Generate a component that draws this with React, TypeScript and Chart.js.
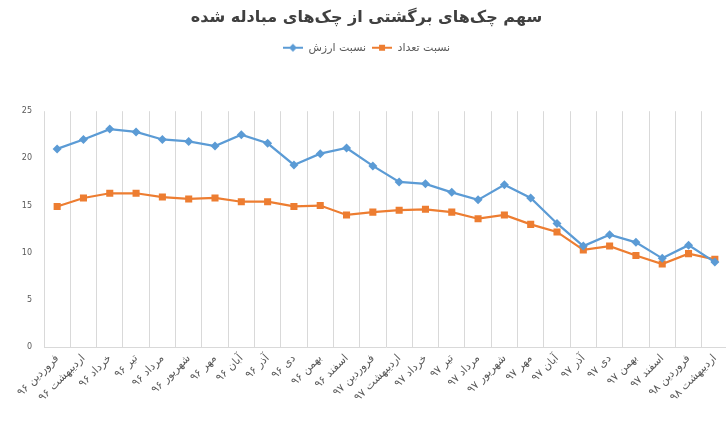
import React, { useEffect, useRef } from "react";
import { Chart, registerables } from "chart.js";

Chart.register(...registerables);

const TITLE = "سهم چک‌های برگشتی از چک‌های مبادله شده";
const CATEGORIES = [
  "فروردین ۹۶", "اردیبهشت ۹۶", "خرداد ۹۶", "تیر ۹۶", "مرداد ۹۶", "شهریور ۹۶",
  "مهر ۹۶", "آبان ۹۶", "آذر ۹۶", "دی ۹۶", "بهمن ۹۶", "اسفند ۹۶",
  "فروردین ۹۷", "اردیبهشت ۹۷", "خرداد ۹۷", "تیر ۹۷", "مرداد ۹۷", "شهریور ۹۷",
  "مهر ۹۷", "آبان ۹۷", "آذر ۹۷", "دی ۹۷", "بهمن ۹۷", "اسفند ۹۷",
  "فروردین ۹۸", "اردیبهشت ۹۸",
];
const VALUE_LABEL = "نسبت ارزش";
const COUNT_LABEL = "نسبت تعداد";
const VALUE_SHARE = [21.0, 22.0, 23.1, 22.8, 22.0, 21.8, 21.3, 22.5, 21.6, 19.3, 20.5, 21.1, 19.2, 17.5, 17.3, 16.4, 15.6, 17.2, 15.8, 13.1, 10.7, 11.9, 11.1, 9.4, 10.8, 9.0];
const COUNT_SHARE = [14.9, 15.8, 16.3, 16.3, 15.9, 15.7, 15.8, 15.4, 15.4, 14.9, 15.0, 14.0, 14.3, 14.5, 14.6, 14.3, 13.6, 14.0, 13.0, 12.2, 10.3, 10.7, 9.7, 8.8, 9.9, 9.3];
const Y_MIN = 0;
const Y_MAX = 25;
const Y_STEP = 5;

const BLUE = "#5b9bd5";
const ORANGE = "#ed7d31";
const FONT = "'DejaVu Sans', 'Noto Sans', sans-serif";

function legendIcon(color: string, shape: "diamond" | "square"): HTMLCanvasElement {
  const c = document.createElement("canvas");
  c.width = 20;
  c.height = 10;
  const ctx = c.getContext("2d")!;
  ctx.strokeStyle = color;
  ctx.lineWidth = 2;
  ctx.beginPath();
  ctx.moveTo(0, 5);
  ctx.lineTo(20, 5);
  ctx.stroke();
  ctx.fillStyle = color;
  ctx.beginPath();
  if (shape === "diamond") {
    ctx.moveTo(10, 1);
    ctx.lineTo(14, 5);
    ctx.lineTo(10, 9);
    ctx.lineTo(6, 5);
    ctx.closePath();
  } else {
    ctx.rect(7, 2, 6, 6);
  }
  ctx.fill();
  return c;
}

export default function App() {
  const ref = useRef<HTMLCanvasElement | null>(null);

  useEffect(() => {
    if (!ref.current) return;
    const icons = [legendIcon(BLUE, "diamond"), legendIcon(ORANGE, "square")];
    const legendSpacer = {
      id: "legendSpacer",
      beforeInit(chart: any) {
        const orig = chart.legend.fit;
        chart.legend.fit = function () {
          orig.bind(chart.legend)();
          this.height = 75;
        };
      },
    };
    const chart = new Chart(ref.current, {
      type: "line",
      data: {
        labels: CATEGORIES,
        datasets: [
          {
            label: VALUE_LABEL,
            data: VALUE_SHARE,
            borderColor: BLUE,
            backgroundColor: BLUE,
            borderWidth: 2.25,
            pointStyle: "rectRot",
            pointRadius: 4.5,
            pointBorderWidth: 0,
            tension: 0,
          },
          {
            label: COUNT_LABEL,
            data: COUNT_SHARE,
            borderColor: ORANGE,
            backgroundColor: ORANGE,
            borderWidth: 2.25,
            pointStyle: "rect",
            pointRadius: 5,
            pointBorderWidth: 0,
            tension: 0,
          },
        ],
      },
      plugins: [legendSpacer],
      options: {
        animation: false,
        responsive: false,
        maintainAspectRatio: false,
        layout: { padding: 0 },
        plugins: {
          title: {
            display: true,
            text: TITLE,
            color: "#404040",
            font: { family: FONT, size: 16, weight: "bold" },
            padding: { top: 8, bottom: 9 },
          },
          legend: {
            display: true,
            position: "top",
            labels: {
              color: "#595959",
              font: { family: FONT, size: 11 },
              usePointStyle: true,
              pointStyleWidth: 20,
              padding: 6,
              generateLabels: (chart: any) =>
                chart.data.datasets.map((ds: any, i: number) => ({
                  text: ds.label,
                  fillStyle: ds.borderColor,
                  strokeStyle: ds.borderColor,
                  pointStyle: icons[i],
                  fontColor: "#595959",
                  datasetIndex: i,
                  hidden: false,
                  lineWidth: 0,
                })),
            },
          },
          tooltip: { enabled: false },
        },
        scales: {
          x: {
            type: "category",
            offset: true,
            grid: {
              display: true,
              offset: true,
              color: "#d9d9d9",
              lineWidth: 1,
              drawTicks: false,
            },
            border: { display: true, color: "#d9d9d9", width: 1 },
            ticks: {
              color: "#595959",
              font: { family: FONT, size: 11 },
              minRotation: 45,
              maxRotation: 45,
              autoSkip: false,
              padding: 5,
            },
            afterFit(scale: any) {
              scale.height = 91;
            },
          },
          y: {
            min: Y_MIN,
            max: Y_MAX,
            grid: { display: false, drawTicks: false },
            border: { display: false },
            ticks: {
              stepSize: Y_STEP,
              color: "#595959",
              font: { family: FONT, size: 8 },
              padding: 12,
            },
            afterFit(scale: any) {
              scale.width = 44;
            },
          },
        },
      },
    });
    return () => chart.destroy();
  }, []);

  return (
    <div
      style={{
        position: "fixed",
        left: 0,
        top: 0,
        width: 726,
        height: 438,
        overflow: "hidden",
        background: "#fff",
      }}
    >
      <canvas ref={ref} width={733} height={438} style={{ width: 733, height: 438, display: "block" }} />
    </div>
  );
}
